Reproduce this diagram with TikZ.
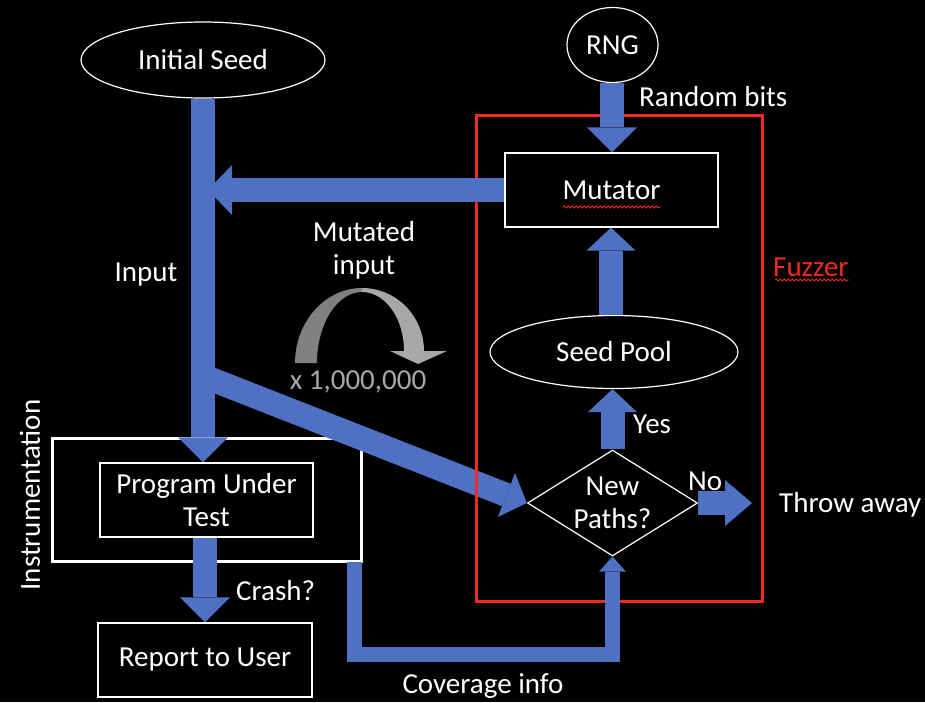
\documentclass[tikz,border=0pt]{standalone}
\usepackage{fontspec}
\setmainfont{Carlito}
\usetikzlibrary{shapes.geometric,arrows.meta,decorations.pathmorphing}
\definecolor{bblue}{RGB}{80,112,196}
\definecolor{fred}{RGB}{240,42,30}
\definecolor{gdark}{RGB}{128,128,128}
\definecolor{glight}{RGB}{168,168,168}
\tikzset{
  wnode/.style={draw=white, line width=1.2pt, text=white, inner sep=0pt, align=center},
  wellipse/.style={wnode, ellipse},
  wbox/.style={wnode, rectangle},
  lbl/.style={text=white, inner sep=0pt, align=center},
  barrow/.style={draw=bblue, line width=24pt, line join=miter},
  bhead/.style={-{Triangle[length=#1, width=50pt, line width=0pt]}},
  squiggle/.style={draw=fred, line width=0.8pt, decorate, decoration={snake, amplitude=1.1pt, segment length=4pt}}
}
\begin{document}
\begin{tikzpicture}[x=1pt, y=-1pt, font=\fontsize{29}{34}\selectfont]
\fill[black] (0,0) rectangle (925,702);
\useasboundingbox (0,0) rectangle (925,702);

% nodes
\node[wellipse, minimum width=244pt, minimum height=76pt] (seed) at (203,60) {Initial Seed};
\node[wellipse, minimum width=91pt, minimum height=75pt] (rng) at (612.5,45) {RNG};
\node[wbox, minimum width=213pt, minimum height=74pt] (mut) at (611.5,190) {Mutator};
\node[wellipse, minimum width=248pt, minimum height=73pt] (pool) at (614,352) {Seed Pool};
\node[draw=white, line width=1.2pt, diamond, minimum width=170pt, minimum height=106pt, inner sep=0pt] (np) at (612.5,503) {};
\node[lbl] (nptext) at (np.center) {New\\[-1pt]Paths?};
\node[draw=white, line width=3pt, rectangle, minimum width=309pt, minimum height=123pt, inner sep=0pt] (instr) at (206.5,499.5) {};
\node[wbox, minimum width=213pt, minimum height=74pt] (put) at (206.5,500) {Program Under\\[-1pt]Test};
\node[wbox, minimum width=214pt, minimum height=74pt] (rep) at (205,660) {Report to User};

% helper coordinates
\coordinate (mainx) at (203,0);
\coordinate (crashx) at (205,0);
\coordinate (rngx) at (612,0);
\coordinate (poolx) at (611,0);
\coordinate (mtip) at (208,190);
\coordinate (fork) at (203,376);
\coordinate (noend) at (752,503);
\coordinate (cov0) at (354.5,562);
\coordinate (cov1) at (354.5,654.5);
\coordinate (cov2) at (612.5,654.5);

% diagonal arrow (behind red frame)
\draw[barrow, -{Triangle[length=22pt, width=47pt, line width=0pt]}] (fork) -- (np.west);

% Fuzzer frame
\node[draw=fred, line width=3pt, rectangle, minimum width=286pt, minimum height=486pt, inner sep=0pt] (fuzz) at (619,358) {};

% blue arrows
\draw[barrow, bhead=25pt] (seed.south -| mainx) -- (put.north -| mainx);
\draw[barrow, -{Triangle[length=24pt, width=50pt, line width=0pt]}] (mut.west) -- (mtip);
\draw[barrow, bhead=25pt] (rng.south -| rngx) -- (mut.north -| rngx);
\draw[barrow, -{Triangle[length=23pt, width=49pt, line width=0pt]}] (pool.north -| poolx) -- (mut.south -| poolx);
\draw[barrow, -{Triangle[length=23pt, width=49pt, line width=0pt]}] (np.north) -- (pool.south -| np.north);
\draw[barrow, -{Triangle[length=27pt, width=46pt, line width=0pt]}] (np.east) -- (noend);
\draw[barrow, bhead=25pt] (put.south -| crashx) -- (rep.north -| crashx);
\draw[draw=bblue, line width=15pt, line join=miter, -{Triangle[length=15pt, width=27pt, line width=0pt]}] (cov0) -- (cov1) -- (cov2) -- (np.south);

% gray curved arrow (x 1,000,000 loop)
\fill[gdark] (295,363) .. controls (295,322) and (325,288) .. (362,288) -- (362,292) .. controls (337,292) and (317,324) .. (317,363) -- cycle;
\fill[glight] (362,288) .. controls (396,288) and (424,316) .. (424,351) -- (447,351) -- (418,364) -- (390,351) -- (404,351) .. controls (404,318) and (385,292) .. (362,292) -- cycle;

% labels
\node[lbl, anchor=west] (rbits) at (639,97) {Random bits};
\node[lbl] (mutin) at (364,250) {Mutated\\[-1pt]input};
\node[lbl] (input) at (146,275) {Input};
\node[lbl, text=fred, anchor=west] (fuzzlbl) at (773,267) {Fuzzer};
\node[lbl, text=glight] (times) at (358,382) {x 1,000,000};
\node[lbl, anchor=west] (yes) at (633,424) {Yes};
\node[lbl, anchor=west] (no) at (688,481) {No};
\node[lbl, anchor=west] (throw) at (779,505) {Throw away};
\node[lbl, anchor=west] (crash) at (236,591) {Crash?};
\node[lbl] (cov) at (483,686) {Coverage info};
\node[lbl, rotate=90] (instrlbl) at (30,495) {Instrumentation};

% spell-check squiggles
\draw[squiggle] (563,207) -- (661,207);
\draw[squiggle] (775,280) -- (849,280);
\end{tikzpicture}
\end{document}
